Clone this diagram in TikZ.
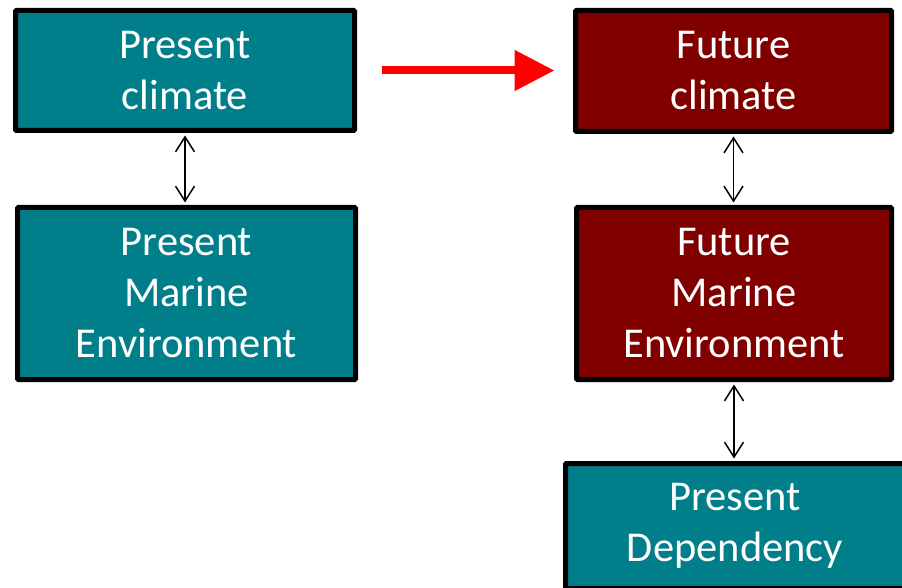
\documentclass[tikz,border=0pt]{standalone}
\usepackage{fontspec}
\setmainfont{Carlito}
\usetikzlibrary{arrows.meta}
\definecolor{tealbox}{RGB}{0,126,138}
\definecolor{redbox}{RGB}{128,0,0}
\tikzset{
  box/.style={draw=black, line width=5pt, rounded corners=1pt, text=white, align=center,
    font=\fontsize{42.5}{51}\selectfont, inner sep=0pt},
  present/.style={box, fill=tealbox},
  future/.style={box, fill=redbox},
  link/.style={line width=1.5pt, {Straight Barb[length=15pt,width=19pt]}-{Straight Barb[length=15pt,width=19pt]},
    shorten <=2.5pt, shorten >=2.5pt},
  timearrow/.style={line width=8pt, red, -{Triangle[length=40pt,width=39pt]}}
}
\begin{document}
\begin{tikzpicture}[x=1pt,y=1pt]
  \useasboundingbox (0,0) rectangle (902,587);
  \clip (0,0) rectangle (902,587);
  \fill[white] (0,0) rectangle (902,587);

  % left column: present state
  \node[present, minimum width=339pt, minimum height=120pt] (pc) at (185,516.5) {Present\\climate};
  \node[present, minimum width=338pt, minimum height=172pt] (pm) at (186.5,293.5) {Present\\Marine\\Environment};

  % right column: future state
  \node[future, minimum width=316pt, minimum height=121pt] (fc) at (733.5,516) {Future\\climate};
  \node[future, minimum width=315pt, minimum height=172pt] (fm) at (734,293.5) {Future\\Marine\\Environment};
  \node[present, minimum width=339pt, minimum height=125pt] (pd) at (735,61) {Present\\Dependency};

  % links between levels
  \draw[link] (pc.south) -- (pc.south |- pm.north);
  \draw[link] (fc.south) -- (fc.south |- fm.north);
  \draw[link] (fm.south) -- (fm.south |- pd.north);

  % shift from present to future
  \draw[timearrow, shorten <=24.5pt, shorten >=18.5pt] (pc.east) -- (pc.east -| fc.west);
\end{tikzpicture}
\end{document}
